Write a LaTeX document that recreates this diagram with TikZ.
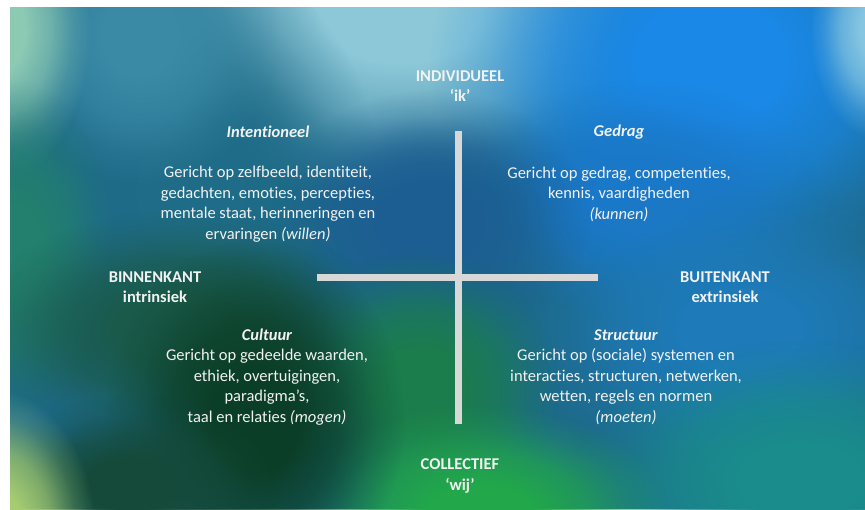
\documentclass[tikz,border=0pt]{standalone}
\usepackage{fontspec}
\setmainfont{Carlito}[Ligatures={NoCommon}]
\usetikzlibrary{fadings}
\pgfdeclareradialshading{blobshade}{\pgfpointorigin}{color(0bp)=(white); color(7bp)=(white); color(14bp)=(white!70!black); color(20bp)=(white!25!black); color(25bp)=(black); color(50bp)=(black)}
\pgfdeclarefading{blob}{\pgfuseshading{blobshade}}
\definecolor{basec}{HTML}{1D6A8A}
\definecolor{cyanl}{HTML}{8CC8D8}
\definecolor{tealb}{HTML}{3A8AA6}
\definecolor{tealbig}{HTML}{1F6C88}
\definecolor{mint}{HTML}{8CCAB4}
\definecolor{brblue}{HTML}{1A88E6}
\definecolor{brblue2}{HTML}{1A78C8}
\definecolor{edgel}{HTML}{86C6E2}
\definecolor{dkblue}{HTML}{1C5E92}
\definecolor{tealgr}{HTML}{23806E}
\definecolor{dkgreen}{HTML}{1A5A4A}
\definecolor{ltgreen}{HTML}{A6CC70}
\definecolor{vdkgreen}{HTML}{0B3E26}
\definecolor{dkgreen2}{HTML}{154A3A}
\definecolor{brgreen}{HTML}{22A84A}
\definecolor{midgreen}{HTML}{1B7D4C}
\definecolor{brteal}{HTML}{1A8C8C}
\definecolor{rblue}{HTML}{1E7AB8}
\definecolor{txt}{HTML}{F2F2F2}
\definecolor{axis}{HTML}{D8D8D8}
\tikzset{
  blobfill/.style={fill=#1, path fading=blob},
  label/.style={text=txt, align=center, inner sep=0pt, font=\fontsize{16.5}{20.5}\selectfont},
  head/.style={label, font=\fontsize{16.5}{20.5}\selectfont\bfseries},
  axisline/.style={draw=axis, line width=7pt}
}
\begin{document}
\begin{tikzpicture}[x=1pt,y=-1pt]
\useasboundingbox (0,0) rectangle (865,509);
\fill[white] (0,0) rectangle (865,509);
\begin{scope}
\clip (10,7) rectangle (865,509);
\fill[basec] (10,7) rectangle (865,509);
\fill[blobfill=cyanl] (400,10) ellipse [x radius=290pt, y radius=190pt];
\fill[blobfill=tealbig] (190,190) ellipse [x radius=190pt, y radius=240pt];
\fill[blobfill=tealb] (140,35) ellipse [x radius=140pt, y radius=150pt];
\fill[blobfill=mint] (0,30) ellipse [x radius=90pt, y radius=150pt];
\fill[blobfill=brblue] (710,60) ellipse [x radius=280pt, y radius=220pt];
\fill[blobfill=brblue2] (640,200) ellipse [x radius=180pt, y radius=120pt];
\fill[blobfill=edgel] (880,30) ellipse [x radius=70pt, y radius=110pt];
\fill[blobfill=dkblue] (430,220) ellipse [x radius=160pt, y radius=130pt];
\fill[blobfill=tealgr] (15,250) ellipse [x radius=100pt, y radius=170pt];
\fill[blobfill=dkgreen] (180,330) ellipse [x radius=210pt, y radius=120pt];
\fill[blobfill=rblue] (740,330) ellipse [x radius=220pt, y radius=150pt];
\fill[blobfill=midgreen] (420,390) ellipse [x radius=140pt, y radius=140pt];
\fill[blobfill=brteal] (800,480) ellipse [x radius=230pt, y radius=140pt];
\fill[blobfill=brgreen] (480,515) ellipse [x radius=190pt, y radius=110pt];
\fill[blobfill=vdkgreen] (255,420) ellipse [x radius=150pt, y radius=180pt];
\fill[blobfill=dkgreen2] (130,485) ellipse [x radius=150pt, y radius=90pt];
\fill[blobfill=ltgreen] (-5,530) ellipse [x radius=100pt, y radius=140pt];
\end{scope}

\coordinate (vtop) at (458,131);
\coordinate (vbot) at (458,424);
\coordinate (hl) at (317,277);
\coordinate (hr) at (598,277);
\draw[axisline] (vtop) -- (vbot);
\draw[axisline] (hl) -- (hr);

\node[head] (indiv) at (460,86) {INDIVIDUEEL\\‘ik’};
\node[head] (coll) at (460,476) {COLLECTIEF\\‘wij’};
\node[head] (binnen) at (155,287) {BINNENKANT\\intrinsiek};
\node[head] (buiten) at (725,287) {BUITENKANT\\extrinsiek};

\node[head, font=\fontsize{16.5}{20.5}\selectfont\bfseries\itshape] (intt) at (268,132) {Intentioneel};
\node[label] (intb) at (268,204) {Gericht op zelfbeeld, identiteit,\\gedachten, emoties, percepties,\\mentale staat, herinneringen en\\ervaringen \textit{(willen)}};

\node[head, font=\fontsize{16.5}{20.5}\selectfont\bfseries\itshape] (gedt) at (619,132) {Gedrag};
\node[label] (gedb) at (619,194) {Gericht op gedrag, competenties,\\kennis, vaardigheden\\\textit{(kunnen)}};

\node[label] (cult) at (267,377) {\textbf{\textit{Cultuur}}\\Gericht op gedeelde waarden,\\ethiek, overtuigingen,\\paradigma’s,\\taal en relaties \textit{(mogen)}};

\node[label] (struc) at (626,377) {\textbf{\textit{Structuur}}\\Gericht op (sociale) systemen en\\interacties, structuren, netwerken,\\wetten, regels en normen\\\textit{(moeten)}};
\end{tikzpicture}
\end{document}
